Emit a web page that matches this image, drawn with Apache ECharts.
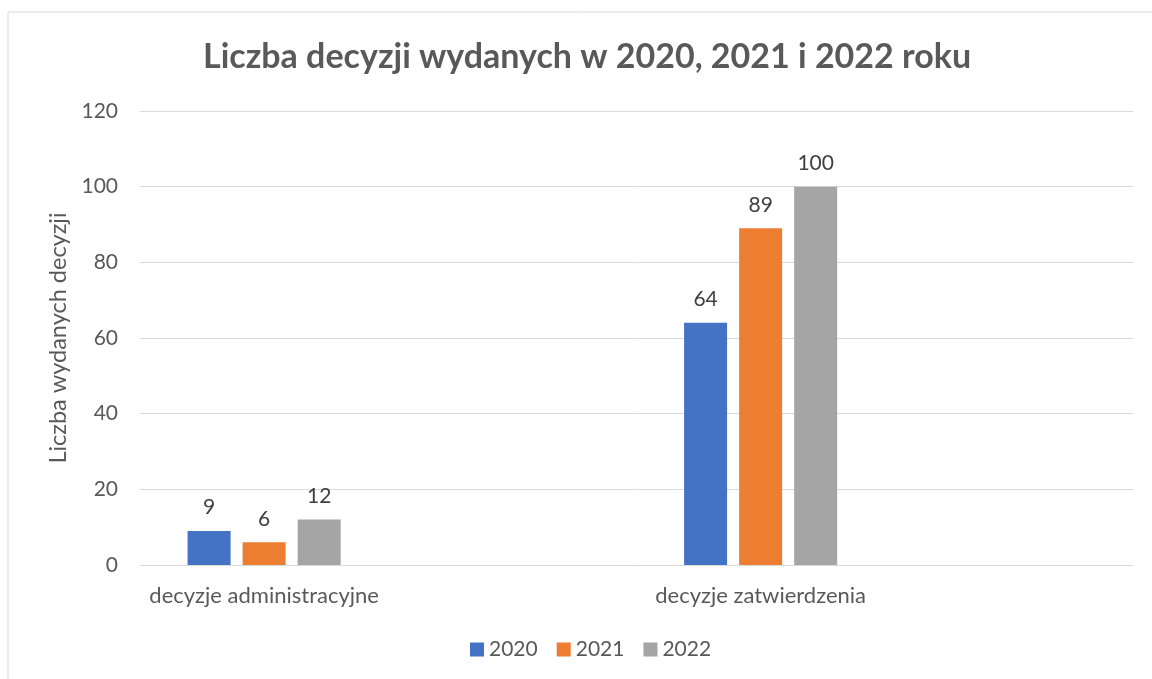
<!DOCTYPE html>
<html>
<head>
<meta charset="utf-8">
<script src="https://cdn.jsdelivr.net/npm/echarts@6/dist/echarts.min.js"></script>
<style>
  html, body { margin: 0; padding: 0; background: #fff; }
  #chart { width: 1152px; height: 679px; }
</style>
</head>
<body>
<div id="chart"></div>
<script>
const categories = ['decyzje administracyjne', 'decyzje zatwierdzenia']
const years = ['2020', '2021', '2022']
const values2020 = [9, 64]
const values2021 = [6, 89]
const values2022 = [12, 100]
const colors = ['#4472C4', '#ED7D31', '#A5A5A5']

// the source chart leaves an empty slot after each category
const axisData = []
categories.forEach(c => { axisData.push(c, '') })
const spread = arr => {
  const out = []
  arr.forEach(v => { out.push(v, null) })
  return out
}

const font = 'Lato, "Open Sans", sans-serif'
const chart = echarts.init(document.getElementById('chart'))

const series = [values2020, values2021, values2022].map((vals, i) => ({
  name: years[i],
  type: 'bar',
  data: spread(vals),
  barWidth: 43,
  barGap: '28%',
  itemStyle: { color: colors[i] },
  label: {
    show: true,
    position: 'top',
    distance: 13,
    color: '#404040',
    fontSize: 21,
    fontFamily: font
  }
}))

chart.setOption({
  animation: false,
  graphic: [{
    type: 'rect',
    shape: { x: 8, y: 12, width: 1200, height: 720 },
    style: { fill: 'none', stroke: '#D9D9D9', lineWidth: 1 }
  }],
  title: {
    text: 'Liczba decyzji wydanych w 2020, 2021 i 2022 roku',
    left: 198,
    top: 35,
    textStyle: { color: '#595959', fontSize: 34, fontWeight: 'bold', fontFamily: font }
  },
  legend: {
    top: 639,
    left: 470,
    padding: 0,
    itemWidth: 14,
    itemHeight: 14,
    itemGap: 19,
    icon: 'rect',
    textStyle: { color: '#595959', fontSize: 21, fontFamily: font },
    data: years
  },
  grid: { left: 140, right: 19, top: 111, bottom: 114 },
  xAxis: {
    type: 'category',
    data: axisData,
    axisLine: { lineStyle: { color: '#D9D9D9' } },
    axisTick: { show: false },
    axisLabel: { interval: 0, margin: 20, color: '#595959', fontSize: 22, fontFamily: font }
  },
  yAxis: {
    type: 'value',
    min: 0,
    max: 120,
    interval: 20,
    name: 'Liczba wydanych decyzji',
    nameLocation: 'middle',
    nameGap: 68,
    nameTextStyle: { color: '#595959', fontSize: 23.5, fontFamily: font },
    axisLine: { show: false },
    axisTick: { show: false },
    axisLabel: { margin: 22, color: '#595959', fontSize: 21, fontFamily: font },
    splitLine: { lineStyle: { color: '#D9D9D9' } }
  },
  series
})
</script>
</body>
</html>
